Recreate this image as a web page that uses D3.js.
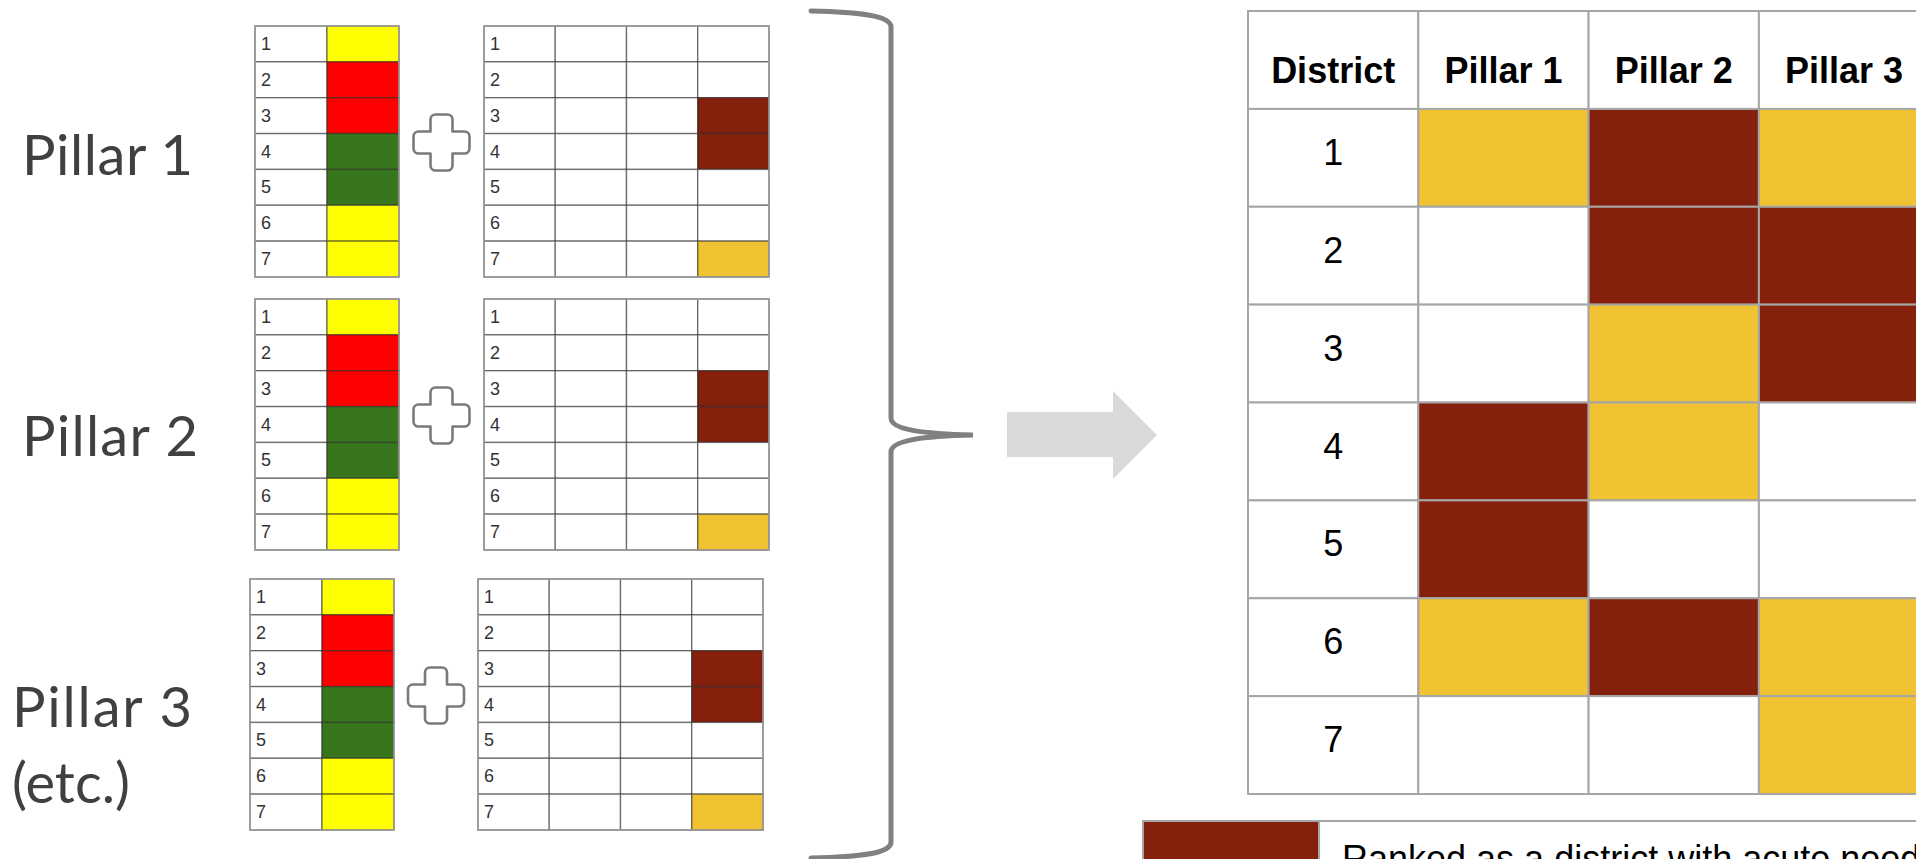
<!DOCTYPE html>
<html>
<head>
<meta charset="utf-8">
<script src="https://cdn.jsdelivr.net/npm/d3@7"></script>
<style>
  html, body { margin: 0; padding: 0; background: #fff; overflow: hidden; }
  svg { display: block; }
</style>
</head>
<body>
<svg id="chart" width="1916" height="859"></svg>
<script>
// ---- data ----
const districts = [1, 2, 3, 4, 5, 6, 7];
const pillarNames = ["Pillar 1", "Pillar 2", "Pillar 3"];
const sideLabels = [["Pillar 1"], ["Pillar 2"], ["Pillar 3", "(etc.)"]];

// rating of each district in a pillar's source table
const pillarRating = ["yellow", "red", "red", "green", "green", "yellow", "yellow"];
// need level flagged in the last column of the pillar's ranking table
const pillarNeed = [null, null, "acute", "acute", null, null, "moderate"];
const rankingColumns = ["district", "c1", "c2", "need"];

// summary: need level per district, one array per pillar
const pillar1Need = ["moderate", null, null, "acute", "acute", "moderate", null];
const pillar2Need = ["acute", "acute", "moderate", "moderate", null, "acute", null];
const pillar3Need = ["moderate", "acute", "acute", null, null, "moderate", "moderate"];
const summaryHeader = ["District", ...pillarNames];

const legendLevels = ["acute"];
const legendLabels = ["Ranked as a district with acute needs"];

// ---- colours ----
const ratingColour = d3.scaleOrdinal()
  .domain(["yellow", "red", "green"])
  .range(["#ffff00", "#ff0000", "#38761d"]);
const needColour = d3.scaleOrdinal()
  .domain(["acute", "moderate"])
  .range(["#85200c", "#f1c232"]);

const svg = d3.select("#chart");

// ---- left side: per-pillar source tables ----
const groups = [
  { top: 26,  left: 255, right: 484, labelX: 22, labelY: [175],      labelW: [171] },
  { top: 299, left: 255, right: 484, labelX: 22, labelY: [456],      labelW: [176] },
  { top: 579, left: 250, right: 478, labelX: 12, labelY: [727, 803], labelW: [180, 118] }
];

const gridStroke = "rgba(40,40,40,0.55)";

groups.forEach((g, gi) => {
  const y = d3.scaleBand().domain(districts).range([g.top, g.top + 251]);

  // pillar label
  const lab = svg.append("g");
  sideLabels[gi].forEach((t, li) => {
    lab.append("text")
      .attr("x", g.labelX)
      .attr("y", g.labelY[li])
      .attr("font-family", "Lato, 'Noto Sans', sans-serif")
      .attr("font-size", 56)
      .attr("fill", "#404040")
      .attr("textLength", g.labelW[li])
      .attr("lengthAdjust", "spacing")
      .text(t);
  });

  // rating table (district number + colour)
  const xr = d3.scaleBand().domain(["num", "rating"]).range([g.left, g.left + 144]);
  const rt = svg.append("g");
  rt.selectAll("rect.num").data(districts).join("rect")
    .attr("x", xr("num")).attr("y", d => y(d))
    .attr("width", xr.bandwidth()).attr("height", y.bandwidth())
    .attr("fill", "#fff").attr("stroke", gridStroke).attr("stroke-width", 1.4);
  rt.selectAll("rect.rating").data(districts).join("rect")
    .attr("x", xr("rating")).attr("y", d => y(d))
    .attr("width", xr.bandwidth()).attr("height", y.bandwidth())
    .attr("fill", (d, i) => ratingColour(pillarRating[i]))
    .attr("stroke", gridStroke).attr("stroke-width", 1.4);
  rt.append("rect")
    .attr("x", g.left).attr("y", g.top).attr("width", 144).attr("height", 251)
    .attr("fill", "none").attr("stroke", "#9a9a9a").attr("stroke-width", 1.6);
  rt.selectAll("text").data(districts).join("text")
    .attr("x", xr("num") + 6)
    .attr("y", d => y(d) + 24)
    .attr("font-family", "'Liberation Sans', Arial, sans-serif")
    .attr("font-size", 18)
    .attr("fill", "#333")
    .text(d => d);

  // plus sign between the two tables
  const s = 28, a = 11, r = 5;
  const plus = `M${-a},${-s + r} A${r},${r} 0 0 1 ${-a + r},${-s} L${a - r},${-s} A${r},${r} 0 0 1 ${a},${-s + r}
    L${a},${-a} L${s - r},${-a} A${r},${r} 0 0 1 ${s},${-a + r} L${s},${a - r} A${r},${r} 0 0 1 ${s - r},${a}
    L${a},${a} L${a},${s - r} A${r},${r} 0 0 1 ${a - r},${s} L${-a + r},${s} A${r},${r} 0 0 1 ${-a},${s - r}
    L${-a},${a} L${-s + r},${a} A${r},${r} 0 0 1 ${-s},${a - r} L${-s},${-a + r} A${r},${r} 0 0 1 ${-s + r},${-a}
    L${-a},${-a} Z`;
  svg.append("path")
    .attr("d", plus)
    .attr("transform", `translate(${(g.left + 144 + g.right) / 2},${g.top + 125.5 - 9})`)
    .attr("fill", "#fff").attr("stroke", "#7a7a7a").attr("stroke-width", 2.6)
    .attr("stroke-linejoin", "round");

  // ranking table (district number + three columns, last holds the need flag)
  const xk = d3.scaleBand().domain(rankingColumns).range([g.right, g.right + 285]);
  const kt = svg.append("g");
  const cells = districts.flatMap((d, i) => rankingColumns.map(c => ({ d, i, c })));
  kt.selectAll("rect").data(cells).join("rect")
    .attr("x", c => xk(c.c)).attr("y", c => y(c.d))
    .attr("width", xk.bandwidth()).attr("height", y.bandwidth())
    .attr("fill", c => (c.c === "need" && pillarNeed[c.i]) ? needColour(pillarNeed[c.i]) : "#fff")
    .attr("stroke", gridStroke).attr("stroke-width", 1.4);
  kt.append("rect")
    .attr("x", g.right).attr("y", g.top).attr("width", 285).attr("height", 251)
    .attr("fill", "none").attr("stroke", "#9a9a9a").attr("stroke-width", 1.6);
  kt.selectAll("text").data(districts).join("text")
    .attr("x", xk("district") + 6)
    .attr("y", d => y(d) + 24)
    .attr("font-family", "'Liberation Sans', Arial, sans-serif")
    .attr("font-size", 18)
    .attr("fill", "#333")
    .text(d => d);
});

// ---- brace gathering the pillars ----
svg.append("path")
  .attr("d", "M811,11 C858,12 891,15 891,27 L891,418 C891,430 925,434 973,435 C925,436 891,440 891,452 L891,842 C891,854 858,857 811,858")
  .attr("fill", "none").attr("stroke", "#808080").attr("stroke-width", 5)
  .attr("stroke-linecap", "round");

// ---- arrow ----
svg.append("path")
  .attr("d", "M1007,412 L1113,412 L1113,391 L1157,435 L1113,479 L1113,457 L1007,457 Z")
  .attr("fill", "#d9d9d9");

// ---- summary table ----
const bx = d3.scaleBand().domain(summaryHeader).range([1248, 1248 + 4 * 170.3]);
const by = d3.scaleBand().domain(["head", ...districts]).range([11, 794]);
const needByPillar = { "Pillar 1": pillar1Need, "Pillar 2": pillar2Need, "Pillar 3": pillar3Need };
const tableBorder = "#a6a6a6";

const st = svg.append("g");
const summaryCells = districts.flatMap((d, i) => summaryHeader.map(h => ({ d, i, h })));
st.selectAll("rect.cell").data(summaryCells).join("rect")
  .attr("class", "cell")
  .attr("x", c => bx(c.h)).attr("y", c => by(c.d))
  .attr("width", bx.bandwidth()).attr("height", by.bandwidth())
  .attr("fill", c => {
    if (c.h === "District") return "#fff";
    const v = needByPillar[c.h][c.i];
    return v ? needColour(v) : "#fff";
  })
  .attr("stroke", tableBorder).attr("stroke-width", 2);
st.selectAll("rect.head").data(summaryHeader).join("rect")
  .attr("class", "head")
  .attr("x", h => bx(h)).attr("y", by("head"))
  .attr("width", bx.bandwidth()).attr("height", by.bandwidth())
  .attr("fill", "#fff").attr("stroke", tableBorder).attr("stroke-width", 2);
st.selectAll("text.head").data(summaryHeader).join("text")
  .attr("class", "head")
  .attr("x", h => bx(h) + bx.bandwidth() / 2)
  .attr("y", by("head") + 72)
  .attr("text-anchor", "middle")
  .attr("font-family", "'Liberation Sans', Arial, sans-serif")
  .attr("font-weight", "bold")
  .attr("font-size", 36)
  .attr("fill", "#000")
  .text(h => h);
st.selectAll("text.num").data(districts).join("text")
  .attr("class", "num")
  .attr("x", bx("District") + bx.bandwidth() / 2)
  .attr("y", d => by(d) + 56)
  .attr("text-anchor", "middle")
  .attr("font-family", "'Liberation Sans', Arial, sans-serif")
  .attr("font-size", 36)
  .attr("fill", "#000")
  .text(d => d);

// ---- legend ----
const lg = svg.append("g");
lg.append("rect")
  .attr("x", 1143).attr("y", 821).attr("width", 800).attr("height", 120)
  .attr("fill", "#fff").attr("stroke", tableBorder).attr("stroke-width", 2);
lg.selectAll("rect.sw").data(legendLevels).join("rect")
  .attr("class", "sw")
  .attr("x", 1143).attr("y", 821).attr("width", 176).attr("height", 120)
  .attr("fill", d => needColour(d)).attr("stroke", tableBorder).attr("stroke-width", 2);
lg.selectAll("text").data(legendLabels).join("text")
  .attr("x", 1342).attr("y", 871)
  .attr("font-family", "'Liberation Sans', Arial, sans-serif")
  .attr("font-size", 36)
  .attr("fill", "#000")
  .text(d => d);
</script>
</body>
</html>
